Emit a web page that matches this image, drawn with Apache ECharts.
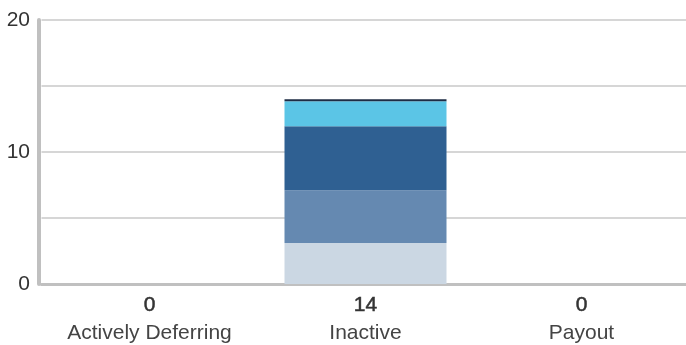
<!DOCTYPE html>
<html>
<head>
<meta charset="utf-8">
<script src="https://cdn.jsdelivr.net/npm/echarts@6/dist/echarts.min.js"></script>
<style>
html,body{margin:0;padding:0;background:#fff;}
#chart{width:686px;height:345px;}
</style>
</head>
<body>
<div id="chart"></div>
<script>
var categories = ['Actively Deferring', 'Inactive', 'Payout'];
var totals = [0, 14, 0];
var seg1 = [0, 3.1, 0];
var seg2 = [0, 4.0, 0];
var seg3 = [0, 4.85, 0];
var seg4 = [0, 1.9, 0];
var seg5 = [0, 0.15, 0];
var segColors = ['#cbd7e3', '#6589b1', '#2f6092', '#5bc5e6', '#1e2d45'];
var yTicks = [0, 10, 20];

var segs = [seg1, seg2, seg3, seg4, seg5];
var font = '"Liberation Sans", Arial, Helvetica, sans-serif';

var chart = echarts.init(document.getElementById('chart'), null, {renderer: 'canvas'});
chart.setOption({
  animation: false,
  backgroundColor: '#ffffff',
  grid: {left: 41.5, width: 648, top: 20, bottom: 61, containLabel: false, outerBoundsMode: 'none'},
  xAxis: {
    type: 'category',
    data: categories,
    axisTick: {show: false},
    axisLine: {lineStyle: {color: '#c0c0c0', width: 3}},
    axisLabel: {
      margin: 7,
      interval: 0,
      formatter: function (v, i) {
        return '{n|' + totals[i] + '}\n{c|' + v + '}';
      },
      rich: {
        n: {fontFamily: font, fontSize: 21, color: '#333333', textBorderColor: '#333333', textBorderWidth: 0.5, lineHeight: 28, align: 'center'},
        c: {fontFamily: font, fontSize: 21, color: '#444444', lineHeight: 28, align: 'center'}
      }
    }
  },
  yAxis: {
    type: 'value',
    min: 0,
    max: 20,
    interval: 5,
    offset: 2.5,
    axisLine: {show: true, lineStyle: {color: '#c0c0c0', width: 4}},
    axisTick: {show: false},
    splitLine: {lineStyle: {color: '#d6d6d6', width: 2}},
    axisLabel: {
      margin: 9,
      fontFamily: font,
      fontSize: 21,
      color: '#333333',
      formatter: function (v) { return yTicks.indexOf(v) >= 0 ? String(v) : ''; }
    }
  },
  series: segs.map(function (d, k) {
    return {
      type: 'bar',
      name: 'Segment ' + (k + 1),
      stack: 'total',
      data: d,
      barWidth: '75%',
      itemStyle: {color: segColors[k]}
    };
  })
});
</script>
</body>
</html>
